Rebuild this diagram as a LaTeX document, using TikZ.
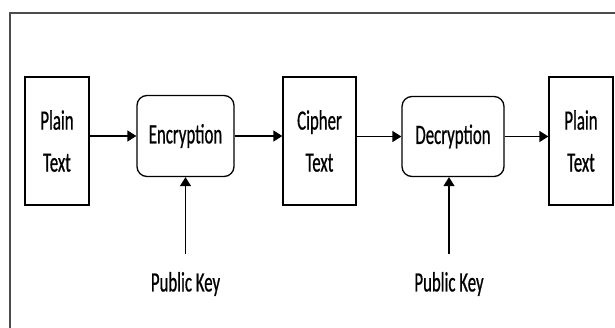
\documentclass[tikz,border=0pt]{standalone}
\usepackage{fontspec}
\setmainfont{Carlito}[FakeStretch=0.6, FakeBold=0.6]
\usetikzlibrary{arrows.meta}
\begin{document}
\begin{tikzpicture}[x=1pt, y=-1pt, line width=1.3pt,
    every node/.style={font=\fontsize{28}{42}\selectfont, align=center, text=black},
    textbox/.style={draw, minimum height=128pt, inner sep=0pt},
    procbox/.style={draw, rounded corners=10pt, inner sep=0pt},
    flow/.style={-{Triangle[length=9pt, width=11pt]}}]
  \useasboundingbox (0,0) rectangle (615,327);
  \clip (0,0) rectangle (615,327);
  \draw[black!70, line width=2pt] (9.5,12.7) rectangle (640,350);
  \node[textbox, minimum width=64pt] (plain1) at (57,141) {Plain\\Text};
  \node[procbox, minimum width=97pt, minimum height=81pt] (enc) at (185.5,136) {Encryption};
  \node[textbox, minimum width=73pt] (cipher) at (319.5,141) {Cipher\\Text};
  \node[procbox, minimum width=102pt, minimum height=80pt] (dec) at (453,136.5) {Decryption};
  \node[textbox, minimum width=64pt] (plain2) at (581,141) {Plain\\Text};
  \node (key1) at (185.5,284) {Public Key};
  \node (key2) at (449,284) {Public Key};
  \draw[flow] (plain1.east |- enc.west) -- (enc.west);
  \draw[flow] (enc.east) -- (cipher.west |- enc.east);
  \draw[flow] (cipher.east |- dec.west) -- (dec.west);
  \draw[flow] (dec.east) -- (plain2.west |- dec.east);
  \draw[flow, shorten <=14pt] (key1) -- (enc);
  \draw[flow, shorten <=14pt] (key2) -- (dec.south -| key2);
\end{tikzpicture}
\end{document}
